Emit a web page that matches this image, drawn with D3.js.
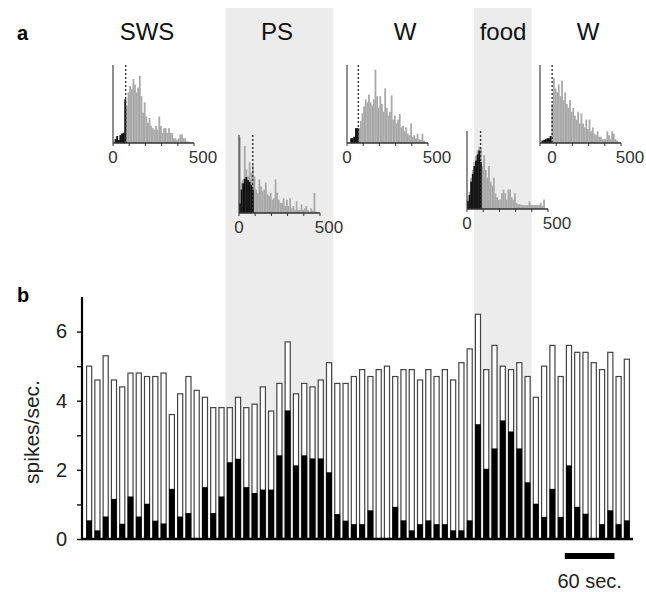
<!DOCTYPE html>
<html lang="en">
<head>
  <meta charset="UTF-8">
  <title>Unit firing across states</title>
  <style>
  body {
    margin: 0;
    background: #fff;
    font-family: Arial, "Liberation Sans", Helvetica, sans-serif;
  }
  .tick text {
    font: 20px Arial, "Liberation Sans", sans-serif;
    fill: #222;
  }
  .hlabel {
    font: 17px Arial, "Liberation Sans", sans-serif;
    fill: #333;
  }
  .state {
    font: 24px Arial, "Liberation Sans", sans-serif;
    fill: #111;
    text-anchor: middle;
  }
  </style>
</head>
<body>
<svg width="646" height="592"></svg>
<script src="https://cdnjs.cloudflare.com/ajax/libs/d3/7.8.5/d3.min.js"></script>
<script>
// panel b: firing rate per 10 s bin (white = total, black = burst part)
var totalRate = [5.0, 4.6, 5.3, 4.6, 4.4, 4.8, 4.8, 4.7, 4.7, 4.8,
                 3.6, 4.2, 4.7, 4.3, 4.1, 3.8, 3.8, 3.8, 4.1, 3.8,
                 3.9, 4.4, 3.7, 4.5, 5.7, 4.2, 4.5, 4.4, 4.6, 5.1,
                 4.5, 4.5, 4.7, 4.9, 4.7, 4.9, 5.0, 4.7, 4.9, 4.9,
                 4.6, 4.9, 4.7, 4.9, 4.6, 5.1, 5.5, 6.5, 4.9, 5.6,
                 5.0, 4.9, 5.1, 4.7, 4.1, 5.0, 5.6, 4.7, 5.6, 5.4,
                 5.4, 5.1, 4.9, 5.4, 4.7, 5.2];
var blackRate = [0.54, 0.25, 0.65, 1.16, 0.44, 1.23, 0.65, 1.02, 0.53, 0.45,
                 1.45, 0.65, 0.75, 0.0, 1.5, 0.75, 1.23, 2.22, 2.32, 1.5,
                 1.33, 1.43, 1.43, 2.42, 3.72, 2.13, 2.42, 2.33, 2.33, 1.93,
                 0.72, 0.53, 0.43, 0.43, 0.83, 0.0, 0.0, 0.93, 0.54, 0.25,
                 0.43, 0.54, 0.43, 0.43, 0.25, 0.25, 0.54, 3.32, 2.03, 2.62,
                 3.43, 3.11, 2.62, 1.64, 1.02, 0.64, 1.45, 0.64, 2.13, 0.93,
                 0.73, 0.0, 0.43, 0.83, 0.43, 0.54];
var yTicks = [0, 1, 2, 3, 4, 5, 6];
var binSeconds = 10;

// shaded epochs (bin indices, inclusive)
var shadeFrom = [17, 47];
var shadeTo = [29, 53];

// panel a: ISI histograms, 10 ms bins 0-500 ms, % of axis height
var stateNames = ["SWS", "PS", "W", "food", "W"];
var isiCut = [78, 85, 70, 84, 75];
var swsGrey = [0, 5, 9, 4, 10, 12, 13, 56, 47, 65, 73, 69, 82, 75, 65, 71, 86, 60, 39, 52,
               34, 26, 32, 22, 19, 17, 22, 17, 34, 22, 13, 19, 19, 13, 19, 13, 13, 6, 6, 4,
               6, 11, 11, 6, 6, 2, 2, 1, 0, 0];
var swsBlack = [0, 5, 9, 4, 10, 12, 13, 56];
var psGrey = [97, 39, 43, 86, 56, 47, 65, 52, 62, 47, 30, 26, 43, 34, 28, 30, 39, 24, 22, 26,
              17, 19, 43, 26, 17, 13, 13, 19, 9, 17, 9, 19, 6, 9, 4, 15, 4, 4, 11, 4,
              6, 9, 4, 2, 6, 3, 26, 2, 0, 0];
var psBlack = [12, 30, 38, 44, 46, 42, 40, 36, 30];
var wGrey = [0, 0, 6, 6, 8, 19, 19, 19, 28, 38, 47, 56, 52, 62, 52, 48, 56, 94, 60, 45,
             60, 50, 40, 70, 45, 35, 40, 61, 30, 35, 25, 30, 37, 20, 22, 15, 20, 12, 10, 25,
             8, 10, 6, 12, 5, 4, 12, 3, 0, 0];
var wBlack = [0, 0, 6, 6, 8, 19, 19];
var foodGrey = [12, 22, 40, 50, 60, 68, 75, 80, 78, 55, 69, 50, 40, 55, 35, 30, 40, 20, 15, 12,
                12, 20, 25, 20, 12, 25, 25, 15, 12, 20, 8, 6, 6, 5, 5, 5, 5, 5, 10, 5,
                5, 5, 5, 5, 5, 8, 4, 12, 0, 0];
var foodBlack = [10, 18, 35, 45, 55, 62, 70, 75, 60];
var w2Grey = [0, 3, 4, 5, 6, 6, 9, 50, 83, 70, 65, 75, 60, 80, 55, 65, 50, 45, 55, 40,
              45, 35, 30, 40, 25, 38, 25, 20, 30, 18, 30, 15, 20, 12, 10, 15, 8, 8, 5, 5,
              5, 15, 10, 5, 15, 12, 5, 3, 0, 0];
var w2Black = [0, 3, 4, 5, 6, 6, 9];
var histXTicks = [0, 100, 200, 300, 400, 500];

var svg = d3.select("svg");

// ---- panel b scales
var x = d3.scaleBand()
    .domain(d3.range(totalRate.length))
    .range([85, 631])
    .paddingInner(0.38)
    .paddingOuter(0.19);
var y = d3.scaleLinear().domain([0, 7]).range([539, 297]);
var tScale = d3.scaleLinear().domain([0, totalRate.length * binSeconds]).range([85, 631]);
var gap = (x.step() - x.bandwidth()) / 2;

// shaded background epochs, spanning both panels
svg.selectAll("rect.shade")
  .data(shadeFrom)
  .enter().append("rect")
    .attr("class", "shade")
    .attr("x", function(d) { return x(d) - gap; })
    .attr("width", function(d, i) { return x(shadeTo[i]) + x.bandwidth() + gap - (x(d) - gap); })
    .attr("y", 8)
    .attr("height", y(0) - 8)
    .style("fill", "#ececec");

// ---- panel a: histograms
var histPos = [[113, 143], [239, 213], [347, 143], [467, 209], [540, 143]];
var zeroShift = [0, 0, 0, 0, 12];
var greys = [swsGrey, psGrey, wGrey, foodGrey, w2Grey];
var blacks = [swsBlack, psBlack, wBlack, foodBlack, w2Black];
var labelX = [147, 277, 405, 503, 588];

svg.selectAll("text.state")
  .data(stateNames)
  .enter().append("text")
    .attr("class", "state")
    .attr("x", function(d, i) { return labelX[i]; })
    .attr("y", 40)
    .text(function(d) { return d; });

greys.forEach(function(grey, k) {
  var ox = histPos[k][0], oy = histPos[k][1];
  var hx = d3.scaleLinear().domain([0, 500]).range([ox, ox + 81]);
  var hy = d3.scaleLinear().domain([0, 100]).range([oy, oy - 78]);
  var g = svg.append("g");
  var bw = hx(10) - hx(0);

  g.selectAll("rect.g")
    .data(grey)
    .enter().append("rect")
      .attr("x", function(d, i) { return hx(i * 10); })
      .attr("width", bw + 0.2)
      .attr("y", function(d) { return hy(d); })
      .attr("height", function(d) { return hy(0) - hy(d); })
      .style("fill", "#a9a9a9");

  g.selectAll("rect.b")
    .data(blacks[k])
    .enter().append("rect")
      .attr("x", function(d, i) { return hx(i * 10); })
      .attr("width", bw + 0.2)
      .attr("y", function(d) { return hy(d); })
      .attr("height", function(d) { return hy(0) - hy(d); })
      .style("fill", "#111");

  g.append("line")
    .attr("x1", hx(isiCut[k])).attr("x2", hx(isiCut[k]))
    .attr("y1", hy(100)).attr("y2", hy(0))
    .style("stroke", "#333").style("stroke-width", 1.4)
    .style("stroke-dasharray", "2,2");

  // axes
  g.append("line")
    .attr("x1", ox).attr("x2", ox)
    .attr("y1", hy(100)).attr("y2", hy(0))
    .style("stroke", "#444").style("stroke-width", 1.2);
  g.append("line")
    .attr("x1", ox).attr("x2", hx(500))
    .attr("y1", oy).attr("y2", oy)
    .style("stroke", "#333").style("stroke-width", 1.4);
  g.selectAll("line.tk")
    .data(histXTicks)
    .enter().append("line")
      .attr("x1", function(d) { return hx(d); })
      .attr("x2", function(d) { return hx(d); })
      .attr("y1", oy).attr("y2", oy + 3)
      .style("stroke", "#333");
  g.append("text").attr("class", "hlabel")
    .attr("x", ox + zeroShift[k]).attr("y", oy + 20)
    .attr("text-anchor", "middle").text("0");
  g.append("text").attr("class", "hlabel")
    .attr("x", hx(500) + 9).attr("y", oy + 20)
    .attr("text-anchor", "middle").text("500");
});

// ---- panel b bars
var bars = svg.append("g");
bars.selectAll("rect.total")
  .data(totalRate)
  .enter().append("rect")
    .attr("x", function(d, i) { return x(i); })
    .attr("width", x.bandwidth())
    .attr("y", function(d) { return y(d); })
    .attr("height", function(d) { return y(0) - y(d); })
    .style("fill", "#fff")
    .style("stroke", "#444")
    .style("stroke-width", 1.2);
bars.selectAll("rect.black")
  .data(blackRate)
  .enter().append("rect")
    .attr("x", function(d, i) { return x(i) - 0.3; })
    .attr("width", x.bandwidth() + 0.6)
    .attr("y", function(d) { return y(d); })
    .attr("height", function(d) { return y(0) - y(d); })
    .style("fill", "#000");

// y axis
var yAxis = svg.append("g")
    .attr("transform", "translate(82,0)")
    .call(d3.axisLeft(y).tickValues(yTicks)
      .tickFormat(function(d) { return d % 2 === 0 ? d : ""; })
      .tickSize(5).tickPadding(10));
yAxis.select(".domain").remove();
yAxis.selectAll(".tick line").style("stroke", "#111").style("stroke-width", 1.4);
svg.append("line")
  .attr("x1", 82).attr("x2", 82)
  .attr("y1", y(7)).attr("y2", y(0) + 1)
  .style("stroke", "#000").style("stroke-width", 2.2);
svg.append("line")
  .attr("x1", 81).attr("x2", 633)
  .attr("y1", y(0)).attr("y2", y(0))
  .style("stroke", "#000").style("stroke-width", 2.6);

svg.append("text")
  .attr("transform", "translate(39," + 432 + ") rotate(-90)")
  .attr("text-anchor", "middle")
  .style("font-size", "21px")
  .style("fill", "#222")
  .text("spikes/sec.");

// scale bar
var sbStart = 580, sbLen = 60;
svg.append("rect")
  .attr("x", tScale(sbStart)).attr("width", tScale(sbStart + sbLen) - tScale(sbStart))
  .attr("y", 553).attr("height", 6)
  .style("fill", "#000");
svg.append("text")
  .attr("x", tScale(sbStart + sbLen / 2)).attr("y", 588)
  .attr("text-anchor", "middle")
  .style("font-size", "20px").style("fill", "#222")
  .text(sbLen + " sec.");

// panel letters
svg.append("text").attr("x", 17).attr("y", 40)
  .style("font-weight", "bold").style("font-size", "20px").text("a");
svg.append("text").attr("x", 17).attr("y", 302)
  .style("font-weight", "bold").style("font-size", "20px").text("b");
</script>
</body>
</html>
